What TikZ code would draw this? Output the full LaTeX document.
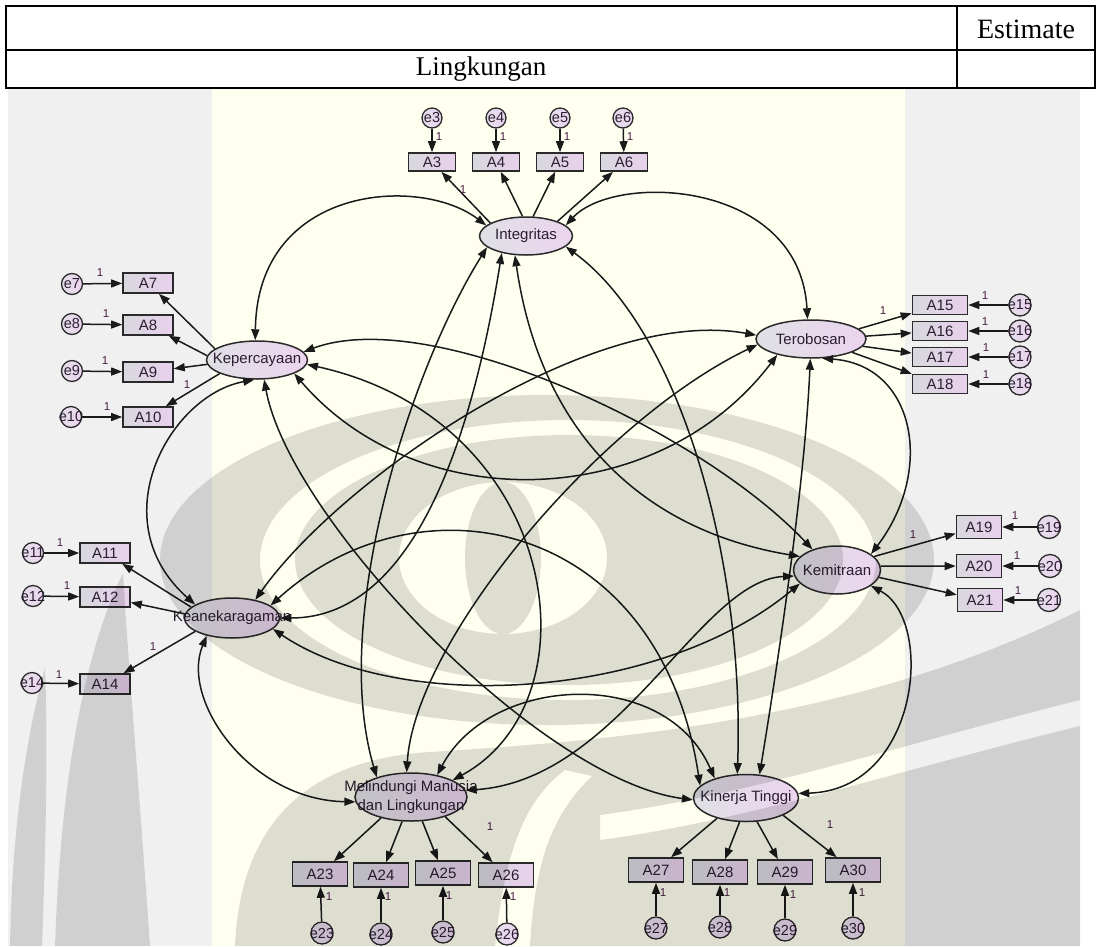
\documentclass[tikz,border=0pt]{standalone}
\usepackage{fontspec}
\setmainfont{Liberation Serif}
\newfontfamily\amosfont{Liberation Sans}
\usetikzlibrary{shapes.geometric,arrows.meta}

\definecolor{bggray}{HTML}{F0F0F0}
\definecolor{bgyellow}{HTML}{FFFFF0}
\definecolor{latL}{HTML}{E0E0E5}
\definecolor{latR}{HTML}{ECD4EE}
\definecolor{obsL}{HTML}{D8D8DE}
\definecolor{obsR}{HTML}{E8D0EC}
\definecolor{errL}{HTML}{E4DEEA}
\definecolor{errR}{HTML}{ECD4EE}
\definecolor{inkline}{HTML}{1A1A1A}
\definecolor{boxedge}{HTML}{2A2A2A}
\definecolor{txtc}{HTML}{2A1E30}
\definecolor{unitc}{HTML}{4A1E44}

\tikzset{
  lat/.style={ellipse, draw=boxedge, line width=1.5pt, left color=latL, right color=latR, inner sep=0pt},
  lattext/.style={font=\amosfont\fontsize{15}{19.5}\selectfont, text=txtc, align=center, inner sep=0pt},
  obs/.style={rectangle, draw=boxedge, line width=1.6pt, left color=obsL, right color=obsR,
              minimum width=50pt, minimum height=20pt, inner sep=0pt,
              font=\amosfont\fontsize{15}{16}\selectfont, text=txtc},
  err/.style={circle, draw=boxedge, line width=1.3pt, left color=errL, right color=errR,
              minimum size=21pt, inner sep=0pt},
  errtext/.style={font=\amosfont\fontsize{14.5}{16}\selectfont, text=txtc, inner sep=0pt},
  reg/.style={draw=inkline, line width=1.5pt, -{Triangle[length=11pt,width=8pt]}},
  cov/.style={draw=inkline, line width=1.5pt, {Triangle[length=11pt,width=8pt]}-{Triangle[length=11pt,width=8pt]}},
  unitlbl/.style={font=\amosfont\fontsize{11.5}{13}\selectfont, text=unitc, inner sep=0pt},
  watermark/.style={fill=black, fill opacity=0.13},
}

\begin{document}
\begin{tikzpicture}[x=1pt,y=-1pt]
\useasboundingbox (0,0) rectangle (1101,946);
\fill[white] (0,0) rectangle (1101,946);

% canvas background
\fill[bggray] (8,89) rectangle (1080,946);
\fill[bgyellow] (212,89) rectangle (905,946);

% header table
\draw[line width=1.6pt] (6,6) rectangle (1095,88);
\draw[line width=1.6pt] (6,50) -- (1095,50);
\draw[line width=1.6pt] (957,6) -- (957,88);
\node[font=\fontsize{28}{30}\selectfont] (est) at (1026,29) {Estimate};
\node[font=\fontsize{27}{30}\selectfont] (ling) at (481,69) {Lingkungan};

% latent variables
\node[lat, minimum width=93pt, minimum height=38pt, label={[lattext]center:Integritas}] (I) at (526,236) {};
\node[lat, minimum width=101pt, minimum height=38pt, label={[lattext]center:Kepercayaan}] (K) at (257,360) {};
\node[lat, minimum width=110pt, minimum height=38pt, label={[lattext]center:Terobosan}] (T) at (811,339) {};
\node[lat, minimum width=95pt, minimum height=40pt, label={[lattext]center:Keanekaragaman}] (N) at (232,618) {};
\node[lat, minimum width=87pt, minimum height=48pt, label={[lattext]center:Kemitraan}] (M) at (837,570) {};
\node[lat, minimum width=112pt, minimum height=48pt, label={[lattext]center:{Melindungi Manusia\\dan Lingkungan}}] (L) at (411,797) {};
\node[lat, minimum width=105pt, minimum height=47pt, label={[lattext]center:Kinerja Tinggi}] (P) at (746,798) {};

% indicators
\begin{scope}[every node/.append style={obs, minimum width=47pt, minimum height=18pt}]
\node (A3) at (432,162) {A3};
\node (A4) at (496,162) {A4};
\node (A5) at (560,162) {A5};
\node (A6) at (624,162) {A6};
\end{scope}
\begin{scope}[every node/.append style={obs}]
\node (A7) at (148,283) {A7};
\node (A8) at (148,325) {A8};
\node (A9) at (148,372) {A9};
\node (A10) at (148,417) {A10};
\node (A11) at (105,553) {A11};
\node (A12) at (105,597) {A12};
\node (A14) at (105,684) {A14};
\end{scope}
\begin{scope}[every node/.append style={obs, minimum width=55pt, minimum height=19pt}]
\node (A15) at (940,305) {A15};
\node (A16) at (940,331) {A16};
\node (A17) at (940,357) {A17};
\node (A18) at (940,384) {A18};
\end{scope}
\begin{scope}[every node/.append style={obs, minimum width=45pt, minimum height=23pt}]
\node (A19) at (979,527) {A19};
\node (A20) at (979,566) {A20};
\node (A21) at (980,600) {A21};
\end{scope}
\begin{scope}[every node/.append style={obs, minimum width=55pt, minimum height=24pt}]
\node (A23) at (320,874) {A23};
\node (A24) at (381,875) {A24};
\node (A25) at (443,873) {A25};
\node (A26) at (506,875) {A26};
\node (A27) at (656,870) {A27};
\node (A28) at (720,872) {A28};
\node (A29) at (785,872) {A29};
\node (A30) at (853,870) {A30};
\end{scope}

% error terms
\node[err, minimum size=20pt, label={[errtext]center:e3}] (e3) at (432,118) {};
\node[err, minimum size=20pt, label={[errtext]center:e4}] (e4) at (496,118) {};
\node[err, minimum size=20pt, label={[errtext]center:e5}] (e5) at (560,118) {};
\node[err, minimum size=20pt, label={[errtext]center:e6}] (e6) at (623,118) {};
\node[err, minimum size=21pt, label={[errtext]center:e7}] (e7) at (72,284) {};
\node[err, minimum size=21pt, label={[errtext]center:e8}] (e8) at (72,324) {};
\node[err, minimum size=21pt, label={[errtext]center:e9}] (e9) at (72,371) {};
\node[err, minimum size=21pt, label={[errtext]center:e10}] (e10) at (71,417) {};
\node[err, minimum size=21pt, label={[errtext]center:e11}] (e11) at (33,553) {};
\node[err, minimum size=21pt, label={[errtext]center:e12}] (e12) at (33,596) {};
\node[err, minimum size=21pt, label={[errtext]center:e14}] (e14) at (32,683) {};
\node[err, minimum size=22pt, label={[errtext]center:e15}] (e15) at (1020,305) {};
\node[err, minimum size=22pt, label={[errtext]center:e16}] (e16) at (1020,331) {};
\node[err, minimum size=22pt, label={[errtext]center:e17}] (e17) at (1020,357) {};
\node[err, minimum size=22pt, label={[errtext]center:e18}] (e18) at (1020,384) {};
\node[err, minimum size=23pt, label={[errtext]center:e19}] (e19) at (1049,527) {};
\node[err, minimum size=23pt, label={[errtext]center:e20}] (e20) at (1050,566) {};
\node[err, minimum size=23pt, label={[errtext]center:e21}] (e21) at (1049,600) {};
\node[err, minimum size=22pt, label={[errtext]center:e23}] (e23) at (322,933) {};
\node[err, minimum size=22pt, label={[errtext]center:e24}] (e24) at (381,934) {};
\node[err, minimum size=22pt, label={[errtext]center:e25}] (e25) at (443,932) {};
\node[err, minimum size=22pt, label={[errtext]center:e26}] (e26) at (507,934) {};
\node[err, minimum size=22pt, label={[errtext]center:e27}] (e27) at (656,928) {};
\node[err, minimum size=22pt, label={[errtext]center:e28}] (e28) at (720,927) {};
\node[err, minimum size=22pt, label={[errtext]center:e29}] (e29) at (785,930) {};
\node[err, minimum size=22pt, label={[errtext]center:e30}] (e30) at (853,928) {};

% error paths
\foreach \e/\a in {e3/A3,e4/A4,e5/A5,e6/A6,e7/A7,e8/A8,e9/A9,e10/A10,e11/A11,e12/A12,e14/A14,
                   e15/A15,e16/A16,e17/A17,e18/A18,e19/A19,e20/A20,e21/A21,e23/A23,e24/A24,
                   e25/A25,e26/A26,e27/A27,e28/A28,e29/A29,e30/A30}
  \draw[reg] (\e) -- (\a);

% loadings
\draw[reg] (I.160) -- (A3);
\draw[reg] (I.100) -- (A4);
\draw[reg] (I.70) -- (A5);
\draw[reg] (I.25) -- (A6);
\draw[reg] (K.165) -- (A7);
\draw[reg] (K.175) -- (A8);
\draw[reg] (K.185) -- (A9);
\draw[reg] (K.200) -- (A10);
\draw[reg] (T.12) -- (A15);
\draw[reg] (T.3) -- (A16);
\draw[reg] (T.352) -- (A17);
\draw[reg] (T.342) -- (A18);
\draw[reg] (N.165) -- (A11);
\draw[reg] (N.175) -- (A12);
\draw[reg] (N.200) -- (A14);
\draw[reg] (M.20) -- (A19);
\draw[reg] (M.5) -- (A20);
\draw[reg] (M.350) -- (A21);
\draw[reg] (L.215) -- (A23);
\draw[reg] (L.250) -- (A24);
\draw[reg] (L.295) -- (A25);
\draw[reg] (L.330) -- (A26);
\draw[reg] (P.215) -- (A27);
\draw[reg] (P.255) -- (A28);
\draw[reg] (P.295) -- (A29);
\draw[reg] (P.335) -- (A30);

% covariances between neighbouring factors
\draw[cov] (I.165) .. controls (420,175) and (257,185) .. (K.95);
\draw[cov] (I.15) .. controls (615,172) and (800,180) .. (T.100);
\draw[cov] (K.262) .. controls (170,395) and (100,520) .. (N.160);
\draw[cov] (T.300) .. controls (915,365) and (935,470) .. (M.25);
\draw[cov] (N.215) .. controls (180,700) and (250,800) .. (L.185);
\draw[cov] (M.335) .. controls (935,620) and (920,790) .. (P.5);
\draw[cov] (L.40) .. controls (490,675) and (665,665) .. (P.148);

% covariances across the model
\draw[cov] (I.196) .. controls (410,370) and (330,620) .. (L.150);
\draw[cov] (I.215) .. controls (475,420) and (420,618) .. (N.0);
\draw[cov] (I.240) .. controls (540,430) and (640,530) .. (M.160);
\draw[cov] (I.345) .. controls (680,330) and (745,560) .. (P.110);
\draw[cov] (T.268) .. controls (805,480) and (780,650) .. (P.60);
\draw[cov] (N.38) .. controls (340,480) and (590,305) .. (T.176);
\draw[cov] (L.100) .. controls (415,640) and (600,420) .. (T.186);
\draw[cov] (K.10) .. controls (430,305) and (700,430) .. (M.140);
\draw[cov] (K.290) .. controls (290,520) and (540,780) .. (P.182);
\draw[cov] (K.340) .. controls (420,520) and (660,510) .. (T.205);
\draw[cov] (K.355) .. controls (560,420) and (600,700) .. (L.22);
\draw[cov] (N.345) .. controls (400,715) and (660,700) .. (M.200);
\draw[cov] (N.18) .. controls (420,470) and (660,520) .. (P.165);
\draw[cov] (M.188) .. controls (700,580) and (620,780) .. (L.7);

% fixed parameters
\node[unitlbl] (u3) at (439,137) {1};
\node[unitlbl] (u4) at (503,137) {1};
\node[unitlbl] (u5) at (567,137) {1};
\node[unitlbl] (u6) at (630,137) {1};
\node[unitlbl] (uI) at (463,190) {1};
\node[unitlbl] (u7) at (100,273) {1};
\node[unitlbl] (u8) at (106,314) {1};
\node[unitlbl] (u9) at (105,361) {1};
\node[unitlbl] (u10) at (107,407) {1};
\node[unitlbl] (uK) at (187,385) {1};
\node[unitlbl] (uT) at (883,311) {1};
\node[unitlbl] (u15) at (985,296) {1};
\node[unitlbl] (u16) at (985,322) {1};
\node[unitlbl] (u17) at (986,348) {1};
\node[unitlbl] (u18) at (986,375) {1};
\node[unitlbl] (uN) at (153,647) {1};
\node[unitlbl] (u11) at (60,543) {1};
\node[unitlbl] (u12) at (67,586) {1};
\node[unitlbl] (u14) at (59,675) {1};
\node[unitlbl] (uM) at (913,535) {1};
\node[unitlbl] (u19) at (1015,516) {1};
\node[unitlbl] (u20) at (1017,556) {1};
\node[unitlbl] (u21) at (1018,591) {1};
\node[unitlbl] (uL) at (490,827) {1};
\node[unitlbl] (u23) at (329,897) {1};
\node[unitlbl] (u24) at (388,897) {1};
\node[unitlbl] (u25) at (449,896) {1};
\node[unitlbl] (u26) at (513,897) {1};
\node[unitlbl] (uP) at (830,825) {1};
\node[unitlbl] (u27) at (663,893) {1};
\node[unitlbl] (u28) at (727,893) {1};
\node[unitlbl] (u29) at (793,895) {1};
\node[unitlbl] (u30) at (862,893) {1};

% faint seal printed over the page
\fill[watermark, even odd rule]
  (547,560) ellipse [x radius=387pt, y radius=165pt]
  (568,560) ellipse [x radius=308pt, y radius=140pt]
  (569,560) ellipse [x radius=274pt, y radius=125pt]
  (503,558) ellipse [x radius=104pt, y radius=76pt]
  (503,558) ellipse [x radius=38pt, y radius=76pt];
\fill[watermark]
  (123,573) .. controls (95,630) and (62,740) .. (55,946) -- (150,946)
  .. controls (140,800) and (128,660) .. (123,573) -- cycle;
\fill[watermark]
  (45,668) .. controls (28,730) and (12,820) .. (10,946) -- (42,946)
  .. controls (46,840) and (48,740) .. (45,668) -- cycle;
\fill[watermark, even odd rule]
  (235,946) .. controls (240,830) and (300,760) .. (430,752)
  .. controls (620,740) and (860,720) .. (1080,610) -- (1080,946) -- cycle
  (495,946) .. controls (505,850) and (525,800) .. (565,770) -- (592,776)
  .. controls (552,815) and (535,860) .. (530,946) -- cycle
  (600,815) .. controls (750,795) and (900,745) .. (1080,700) -- (1080,726)
  .. controls (900,770) and (750,820) .. (600,840) -- cycle;
\end{tikzpicture}
\end{document}
